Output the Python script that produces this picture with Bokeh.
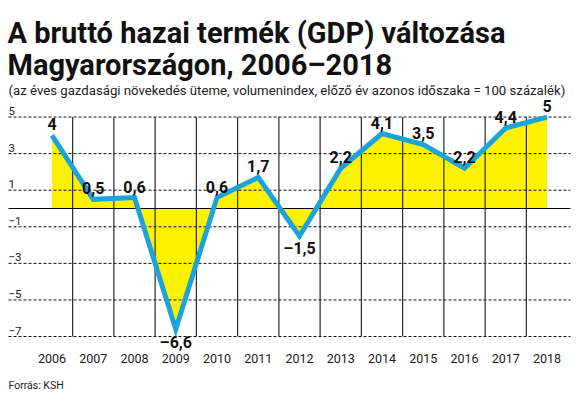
from bokeh.plotting import figure
from bokeh.models import Range1d, Label
from bokeh.core.properties import value
from bokeh.embed import file_html
from bokeh.resources import INLINE

# ---- data ----
years = [2006, 2007, 2008, 2009, 2010, 2011, 2012, 2013, 2014, 2015, 2016, 2017, 2018]
gdp = [4.0, 0.5, 0.6, -6.6, 0.6, 1.7, -1.5, 2.2, 4.1, 3.5, 2.2, 4.4, 5.0]
y_ticks = [5, 3, 1, -1, -3, -5, -7]
y_tick_labels = ["5", "3", "1", "\u22121", "\u22123", "\u22125", "\u22127"]
year_labels = [str(y) for y in years]
value_labels = [("\u2013" if v < 0 else "") + (("%g" % abs(v)).replace(".", ",")) for v in gdp]

title1 = "A bruttó hazai termék (GDP) változása"
title2 = "Magyarországon, 2006\u20132018"
subtitle = "(az éves gazdasági növekedés üteme, volumenindex, előző év azonos időszaka = 100 százalék)"
source = "Forrás: KSH"

W, H = 576, 396
PX_YEAR = 41.25
PX_UNIT = 18.29
X0_PX = 51.5     # pixel of first year
Y0_PX = 208.0    # pixel of zero line
x_start = years[0] - X0_PX / PX_YEAR
x_end = x_start + W / PX_YEAR
y_end = Y0_PX / PX_UNIT
y_start = y_end - H / PX_UNIT
grid_x0 = x_start + 8 / PX_YEAR
grid_x1 = x_start + 570 / PX_YEAR

BLUE = "#1ba3de"
YELLOW = "#fff200"
FONT_NAME = "Roboto"
FONT = value(FONT_NAME)

p = figure(width=W, height=H, output_backend="svg", toolbar_location=None,
           x_range=Range1d(x_start, x_end), y_range=Range1d(y_start, y_end),
           min_border=0, min_border_left=0, min_border_right=0,
           min_border_top=0, min_border_bottom=0)
p.axis.visible = False
p.grid.visible = False
p.outline_line_color = None
p.background_fill_color = "white"
p.border_fill_color = "white"

# yellow area
p.varea(x=years, y1=[0] * len(years), y2=gdp, fill_color=YELLOW)

# dashed horizontal gridlines
n = len(y_ticks)
p.segment(x0=[grid_x0] * n, y0=y_ticks, x1=[grid_x1] * n, y1=y_ticks,
          line_color="#111111", line_width=1, line_dash="3 2")

# vertical column separators
bounds = [y + 0.5 for y in years[:-1]]
p.segment(x0=bounds, y0=[y_ticks[0]] * len(bounds), x1=bounds, y1=[y_ticks[-1]] * len(bounds),
          line_color="#2a2a2a", line_width=1.2)

# zero line
p.segment(x0=[grid_x0], y0=[0], x1=[grid_x1], y1=[0], line_color="#000000", line_width=1.2)

# blue line
p.line(x=years, y=gdp, line_color=BLUE, line_width=5, line_join="miter")

# value labels
offs = [-11 if v >= 0 else 13 for v in gdp]
p.text(x=years, y=gdp, text=value_labels, y_offset=offs, text_align="center",
       text_baseline="middle", text_font=FONT, text_font_style="bold",
       text_font_size="16px", text_color="#111111")

# y tick labels
p.text(x=[x_start] * n, y=y_ticks, text=y_tick_labels, x_offset=8, y_offset=-2,
       text_align="left", text_baseline="bottom", text_font=FONT,
       text_font_size="11.5px", text_color="#222222")

# year labels
p.text(x=years, y=[y_ticks[-1]] * len(years), text=year_labels, y_offset=22,
       text_align="center", text_baseline="middle", text_font=FONT,
       text_font_size="12.5px", text_color="#1a1a1a")

# titles
p.add_layout(Label(x=7, y=H - 32, x_units="screen", y_units="screen", text=title1,
                   text_font=FONT_NAME, text_font_style="bold", text_font_size="29px",
                   text_color="#111111", text_baseline="alphabetic"))
p.add_layout(Label(x=7, y=H - 64, x_units="screen", y_units="screen", text=title2,
                   text_font=FONT_NAME, text_font_style="bold", text_font_size="29px",
                   text_color="#111111", text_baseline="alphabetic"))
p.add_layout(Label(x=8, y=H - 90, x_units="screen", y_units="screen", text=subtitle,
                   text_font=FONT_NAME, text_font_size="13.2px",
                   text_color="#222222", text_baseline="alphabetic"))
p.add_layout(Label(x=8, y=H - 385, x_units="screen", y_units="screen", text=source,
                   text_font=FONT_NAME, text_font_size="10.5px",
                   text_color="#222222", text_baseline="alphabetic"))

open("out.html", "w").write(file_html(p, INLINE))
